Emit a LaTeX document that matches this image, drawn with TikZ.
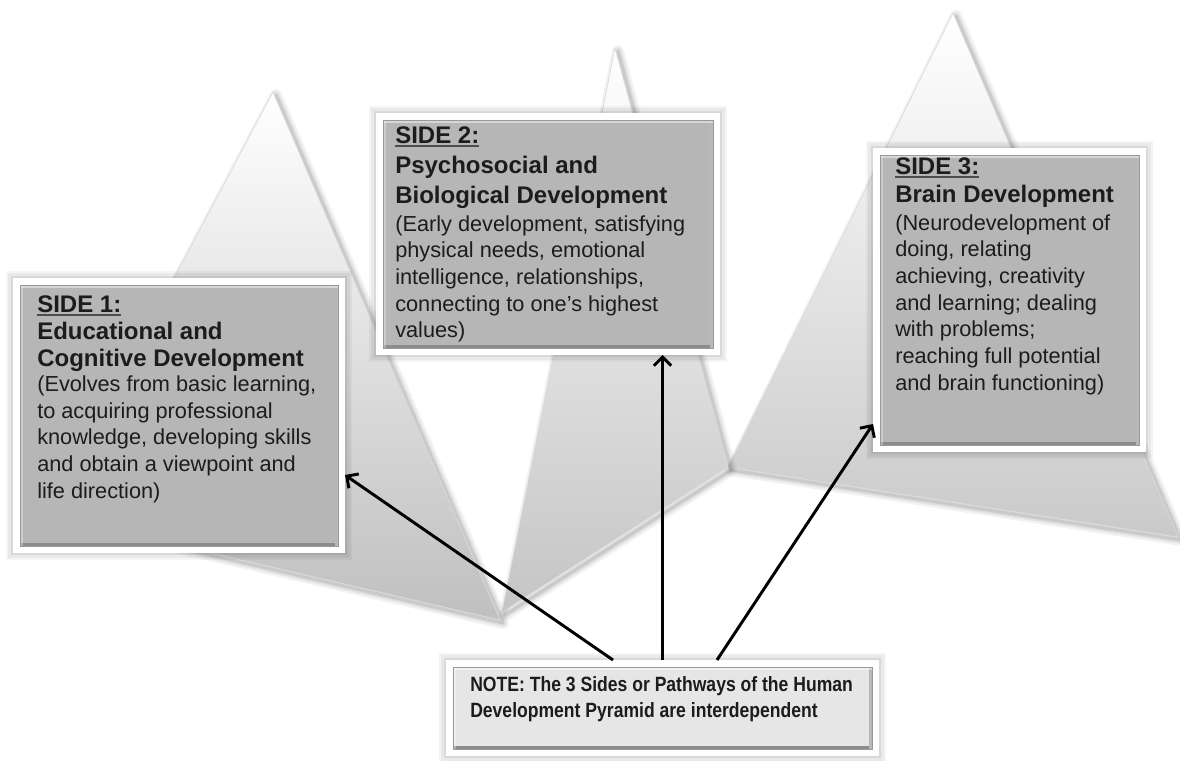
\documentclass[tikz,border=0pt]{standalone}
\usepackage{fontspec}
\setmainfont{Liberation Sans}
\newfontfamily\notefont[FakeStretch=0.85]{Liberation Sans}
\usetikzlibrary{arrows.meta}
\definecolor{panelgray}{HTML}{B6B6B6}
\definecolor{notegray}{HTML}{E6E6E6}
\definecolor{ink}{HTML}{1C1C1C}
% heading lines inside the panels
\newcommand\hdg[1]{{\fontsize{18}{20}\selectfont\bfseries #1}}
% heavy underline for the side labels
\newcommand\uln[1]{\setbox0\hbox{#1}\rlap{\color{black!70}\rule[-3.2pt]{\wd0}{1.4pt}}\box0}
% one shaded pyramid face with a soft shadow on its lower right
\newcommand\pyrface[4]{%
  \foreach \w/\o in {9/0.05,5.5/0.07,2.5/0.10}{%
    \draw[black, opacity=\o, line width=\w pt, line join=round, shift={(3,3)}]
      #1 -- #2 -- #3 -- cycle;}
  \shade[top color=white, bottom color=#4] #1 -- #2 -- #3 -- cycle;
  \draw[black!15, line width=0.5pt, line join=round] #1 -- #2 -- #3 -- cycle;
}
\begin{document}
\begin{tikzpicture}[x=0.75pt,y=-0.75pt,
  frame/.style={fill=white, inner sep=0pt, outer sep=0pt,
    preaction={draw=black, opacity=0.04, line width=11pt},
    preaction={draw=black, opacity=0.05, line width=7pt},
    preaction={draw=black, opacity=0.07, line width=3.5pt}},
  panel/.style={fill=#1, draw=black!40, line width=0.6pt, inner sep=0pt, outer sep=0pt,
    path picture={
      \fill[black!45] (path picture bounding box.south west) rectangle
        ([yshift=2.5pt]path picture bounding box.south east);
      \fill[black!28] (path picture bounding box.north east) rectangle
        ([xshift=-2pt]path picture bounding box.south east);
      \fill[white, opacity=0.45] (path picture bounding box.north west) rectangle
        ([yshift=-2pt]path picture bounding box.north east);
      \fill[white, opacity=0.3] (path picture bounding box.north west) rectangle
        ([xshift=2pt]path picture bounding box.south west);
    }},
  txt/.style={anchor=north west, inner sep=0pt, align=left, text=ink,
    font=\fontsize{16.3}{20}\selectfont},
  notetxt/.style={anchor=north west, inner sep=0pt, align=left, text=ink,
    font=\notefont\fontsize{15.5}{20}\selectfont\bfseries},
  arr/.style={draw=black, line width=2.2pt,
    -{Straight Barb[length=6.5pt,width=13pt]}}]
\useasboundingbox (0,0) rectangle (1180,760);

% the three faces of the pyramid
\pyrface{(953,13)}{(728,467)}{(1178,537)}{black!21}
\pyrface{(615,48)}{(502,612)}{(728,467)}{black!23}
\pyrface{(273,92)}{(48,515)}{(500,620)}{black!25}

% side 1
\node[frame, minimum width=249pt, minimum height=206.25pt] (s1) at (179,415.5) {};
\node[panel=panelgray, minimum width=238.5pt, minimum height=195.75pt] (s1in) at (s1.center) {};
\node[txt] (s1txt) at ([shift={(17,10)}]s1in.north west) {%
  \hdg{\uln{SIDE 1:}}\\[0.5pt]
  \hdg{Educational and}\\[0.5pt]
  \hdg{Cognitive Development}\\[-1.5pt]
  (Evolves from basic learning,\\
  to acquiring professional\\
  knowledge, developing skills\\
  and obtain a viewpoint and\\
  life direction)};

% side 2
\node[frame, minimum width=258pt, minimum height=181.5pt] (s2) at (548,234) {};
\node[panel=panelgray, minimum width=247.5pt, minimum height=171pt] (s2in) at (s2.center) {};
\node[txt] (s2txt) at ([shift={(12,6)}]s2in.north west) {%
  \hdg{\uln{SIDE 2:}}\\[2.5pt]
  \hdg{Psychosocial and}\\[2.5pt]
  \hdg{Biological Development}\\[1pt]
  (Early development, satisfying\\
  physical needs, emotional\\
  intelligence, relationships,\\
  connecting to one’s highest\\
  values)};

% side 3
\node[frame, minimum width=204.75pt, minimum height=228pt] (s3) at (1009.5,300) {};
\node[panel=panelgray, minimum width=194.25pt, minimum height=217.5pt] (s3in) at (s3.center) {};
\node[txt] (s3txt) at ([shift={(15,2)}]s3in.north west) {%
  \hdg{\uln{SIDE 3:}}\\[1pt]
  \hdg{Brain Development}\\[1pt]
  (Neurodevelopment of\\
  doing, relating\\
  achieving, creativity\\
  and learning; dealing\\
  with problems;\\
  reaching full potential\\
  and brain functioning)};

% note
\node[frame, minimum width=324.75pt, minimum height=72pt] (note) at (662.5,708) {};
\node[panel=notegray, minimum width=314.25pt, minimum height=61.5pt] (notein) at (note.center) {};
\node[notetxt] (notetext) at ([shift={(17,9)}]notein.north west) {%
  NOTE: The 3 Sides or Pathways of the Human\\
  Development Pyramid are interdependent};

% connectors from the note to each side
\draw[arr] ([shift={(-49.5,0)}]note.north) -- ([shift={(0,59.5)}]s1.east);
\draw[arr] (note.north) -- (note.north |- s2.south);
\draw[arr] ([shift={(54.5,0)}]note.north) -- ([shift={(0,-28)}]s3.south west);
\end{tikzpicture}
\end{document}
